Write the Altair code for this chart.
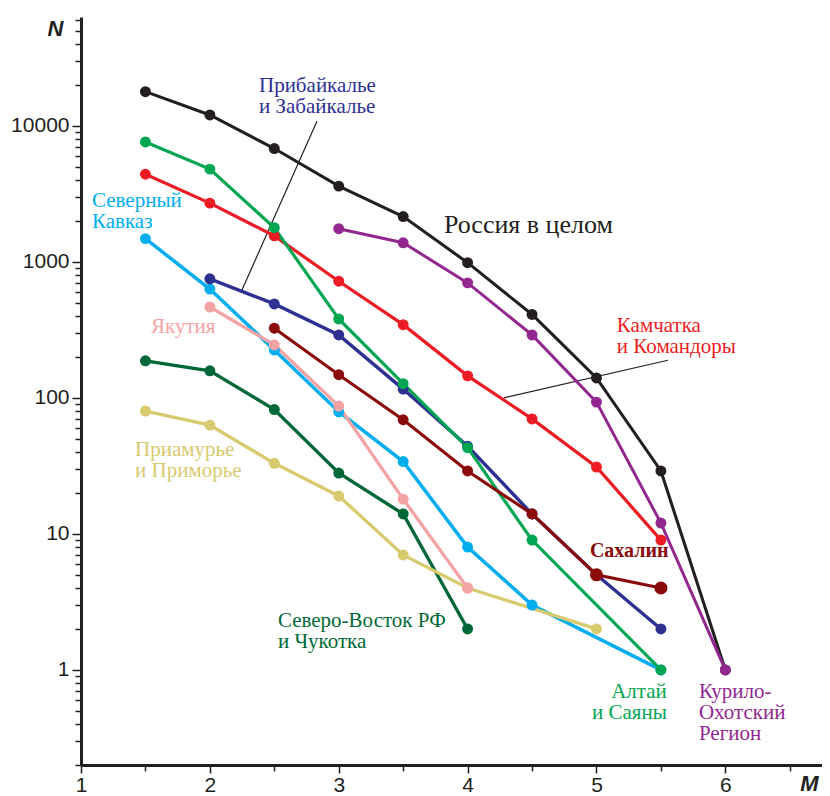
import altair as alt
import pandas as pd

# ---------------- data ----------------
SERIES = [
    "Северный Кавказ",
    "Прибайкалье и Забайкалье",
    "Северо-Восток РФ и Чукотка",
    "Приамурье и Приморье",
    "Якутия",
    "Камчатка и Командоры",
    "Алтай и Саяны",
    "Сахалин",
    "Россия в целом",
    "Курило-Охотский Регион",
]
COLORS = ["#00aeef", "#2e3192", "#006838", "#d8ca6e", "#f4a3a5",
          "#ed1c24", "#00a651", "#8b0a0a", "#231f20", "#92278f"]
WIDTHS = [3.5, 3, 3, 3.5, 3.5, 3.5, 3, 3.5, 4.5, 3]

M_KAVKAZ = [1.5, 2, 2.5, 3, 3.5, 4, 4.5, 5.5]
N_KAVKAZ = [1480, 630, 225, 79, 34, 8, 3, 1]
M_BAIKAL = [2, 2.5, 3, 3.5, 4, 4.5, 5, 5.5]
N_BAIKAL = [750, 490, 290, 116, 44, 14, 5, 2]
M_NE = [1.5, 2, 2.5, 3, 3.5, 4]
N_NE = [187, 158, 82, 28, 14, 2]
M_AMUR = [1.5, 2, 2.5, 3, 3.5, 4, 5]
N_AMUR = [80, 63, 33, 19, 7, 4, 2]
M_YAKUT = [2, 2.5, 3, 3.5, 4]
N_YAKUT = [465, 245, 87, 18, 4]
M_KAMCH = [1.5, 2, 2.5, 3, 3.5, 4, 4.5, 5, 5.5]
N_KAMCH = [4400, 2700, 1550, 720, 345, 145, 70, 31, 9]
M_ALTAI = [1.5, 2, 2.5, 3, 3.5, 4, 4.5, 5.5]
N_ALTAI = [7600, 4800, 1780, 380, 127, 43, 9, 1]
M_SAKH = [2.5, 3, 3.5, 4, 4.5, 5, 5.5]
N_SAKH = [325, 148, 69, 29, 14, 5, 4]
M_RUSSIA = [1.5, 2, 2.5, 3, 3.5, 4, 4.5, 5, 5.5, 6]
N_RUSSIA = [17800, 12000, 6800, 3600, 2150, 985, 410, 140, 29, 1]
M_KURIL = [3, 3.5, 4, 4.5, 5, 5.5, 6]
N_KURIL = [1750, 1380, 700, 290, 93, 12, 1]

M_LIST = [M_KAVKAZ, M_BAIKAL, M_NE, M_AMUR, M_YAKUT, M_KAMCH, M_ALTAI, M_SAKH, M_RUSSIA, M_KURIL]
N_LIST = [N_KAVKAZ, N_BAIKAL, N_NE, N_AMUR, N_YAKUT, N_KAMCH, N_ALTAI, N_SAKH, N_RUSSIA, N_KURIL]

X_MAJOR = [1, 2, 3, 4, 5, 6]
X_MINOR = [1.5, 2.5, 3.5, 4.5, 5.5, 6.5]
Y_MAJOR = [1, 10, 100, 1000, 10000]
Y_MINOR = [0.2, 0.3, 0.4, 0.5, 0.6, 0.7, 0.8, 0.9,
           2, 3, 4, 5, 6, 7, 8, 9,
           20, 30, 40, 50, 60, 70, 80, 90,
           200, 300, 400, 500, 600, 700, 800, 900,
           2000, 3000, 4000, 5000, 6000, 7000, 8000, 9000,
           20000, 30000, 40000, 50000, 60000]

# annotations (label text, series, M, N of first-line baseline)
LABELS_LEFT = [
    ("Прибайкалье\nи Забайкалье", "Прибайкалье и Забайкалье", 2.381, 17700),
    ("Северный\nКавказ", "Северный Кавказ", 1.085, 2520),
    ("Якутия", "Якутия", 1.543, 299),
    ("Камчатка\nи Командоры", "Камчатка и Командоры", 5.158, 304),
    ("Приамурье\nи Приморье", "Приамурье и Приморье", 1.419, 37.2),
    ("Северо-Восток РФ\nи Чукотка", "Северо-Восток РФ и Чукотка", 2.528, 2.06),
    ("Курило-\nОхотский\nРегион", "Курило-Охотский Регион", 5.795, 0.619),
]
LABELS_RIGHT = [("Алтай\nи Саяны", "Алтай и Саяны", 5.546, 0.619)]
LABELS_BOLD = [("Сахалин", "Сахалин", 4.949, 6.73)]
LABELS_BIG = [("Россия в целом", "Россия в целом", 3.816, 1625)]

LEADERS_M = [2.831, 5.554]
LEADERS_N = [10800, 189]
LEADERS_M2 = [2.249, 4.282]
LEADERS_N2 = [620, 100]

# ---------------- tables ----------------
rows = []
for name, ms, ns in zip(SERIES, M_LIST, N_LIST):
    for m, n in zip(ms, ns):
        rows.append({"series": name, "M": m, "N": n})
df = pd.DataFrame(rows)


def lab_df(items):
    return pd.DataFrame([{"text": t, "series": s, "M": m, "N": n} for t, s, m, n in items])


lead_df = pd.DataFrame({"M": LEADERS_M, "N": LEADERS_N, "M2": LEADERS_M2, "N2": LEADERS_N2})

# ---------------- scales & axes ----------------
xs = alt.Scale(domain=[1, 6.75], nice=False, zero=False)
ys = alt.Scale(type="log", domain=[0.2, 63000], nice=False)
cs = alt.Scale(domain=SERIES, range=COLORS)
ws = alt.Scale(domain=SERIES, range=WIDTHS)

AX = "#231f20"
x_major = alt.Axis(values=X_MAJOR, format="d", orient="bottom", tickSize=8, tickWidth=1.5,
                   tickColor=AX, domainWidth=3, domainColor=AX, grid=False,
                   labelFont="Liberation Sans", labelFontSize=21, labelColor=AX,
                   labelPadding=1, labelFlush=False,
                   title="M", titleFont="Liberation Sans", titleFontSize=22,
                   titleFontStyle="italic", titleFontWeight="bold", titleColor=AX,
                   titleAngle=0, titleX=728, titleY=18, titleAlign="center",
                   titleBaseline="middle")
x_minor = alt.Axis(values=X_MINOR, orient="bottom", tickSize=6, tickWidth=1.5, tickColor=AX,
                   labels=False, domain=False, grid=False, title=None)
y_major = alt.Axis(values=Y_MAJOR, format="d", orient="left", tickSize=9, tickWidth=1.5,
                   tickColor=AX, domainWidth=3, domainColor=AX, grid=False,
                   labelFont="Liberation Sans", labelFontSize=21, labelColor=AX,
                   labelPadding=3, labelFlush=False,
                   title="N", titleFont="Liberation Sans", titleFontSize=22,
                   titleFontStyle="italic", titleFontWeight="bold", titleColor=AX,
                   titleAngle=0, titleX=-26, titleY=11, titleAlign="center",
                   titleBaseline="middle")
y_minor = alt.Axis(values=Y_MINOR, orient="left", tickSize=6, tickWidth=1.5, tickColor=AX,
                   labels=False, domain=False, grid=False, title=None)

base = alt.Chart(df)

leaders = alt.Chart(lead_df).mark_rule(color=AX, strokeWidth=1.2).encode(
    x=alt.X("M:Q", scale=xs, axis=None),
    y=alt.Y("N:Q", scale=ys, axis=None),
    x2="M2:Q",
    y2="N2:Q",
)

lines = base.mark_line().encode(
    x=alt.X("M:Q", scale=xs, axis=x_major),
    y=alt.Y("N:Q", scale=ys, axis=y_major),
    color=alt.Color("series:N", scale=cs, legend=None),
    strokeWidth=alt.StrokeWidth("series:N", scale=ws, legend=None),
    detail="series:N",
)

points = base.mark_point(filled=True, opacity=1, size=120).encode(
    x=alt.X("M:Q", scale=xs, axis=x_minor),
    y=alt.Y("N:Q", scale=ys, axis=y_minor),
    color=alt.Color("series:N", scale=cs, legend=None),
)

big_points = base.transform_filter(
    (alt.datum.series == "Сахалин") & (alt.datum.M >= 5)
).mark_point(filled=True, opacity=1, size=170).encode(
    x=alt.X("M:Q", scale=xs, axis=None),
    y=alt.Y("N:Q", scale=ys, axis=None),
    color=alt.Color("series:N", scale=cs, legend=None),
)


def text_layer(items, align="left", size=21, weight="normal"):
    return alt.Chart(lab_df(items)).mark_text(
        align=align, baseline="alphabetic", font="Liberation Serif", fontSize=size,
        fontWeight=weight, lineBreak="\n", lineHeight=21,
    ).encode(
        x=alt.X("M:Q", scale=xs, axis=None),
        y=alt.Y("N:Q", scale=ys, axis=None),
        text="text:N",
        color=alt.Color("series:N", scale=cs, legend=None),
    )


chart = alt.layer(
    leaders, lines, points, big_points,
    text_layer(LABELS_LEFT),
    text_layer(LABELS_RIGHT, align="right"),
    text_layer(LABELS_BOLD, weight="bold", size=20),
    text_layer(LABELS_BIG, size=26),
).resolve_axis(x="independent", y="independent").properties(
    width=741, height=748,
    autosize=alt.AutoSizeParams(type="none"),
    padding={"left": 73, "top": 9, "right": 0, "bottom": 31},
    background="white",
).configure_view(stroke=None)

chart.save("out.html", embed_options={"renderer": "svg", "actions": False})
